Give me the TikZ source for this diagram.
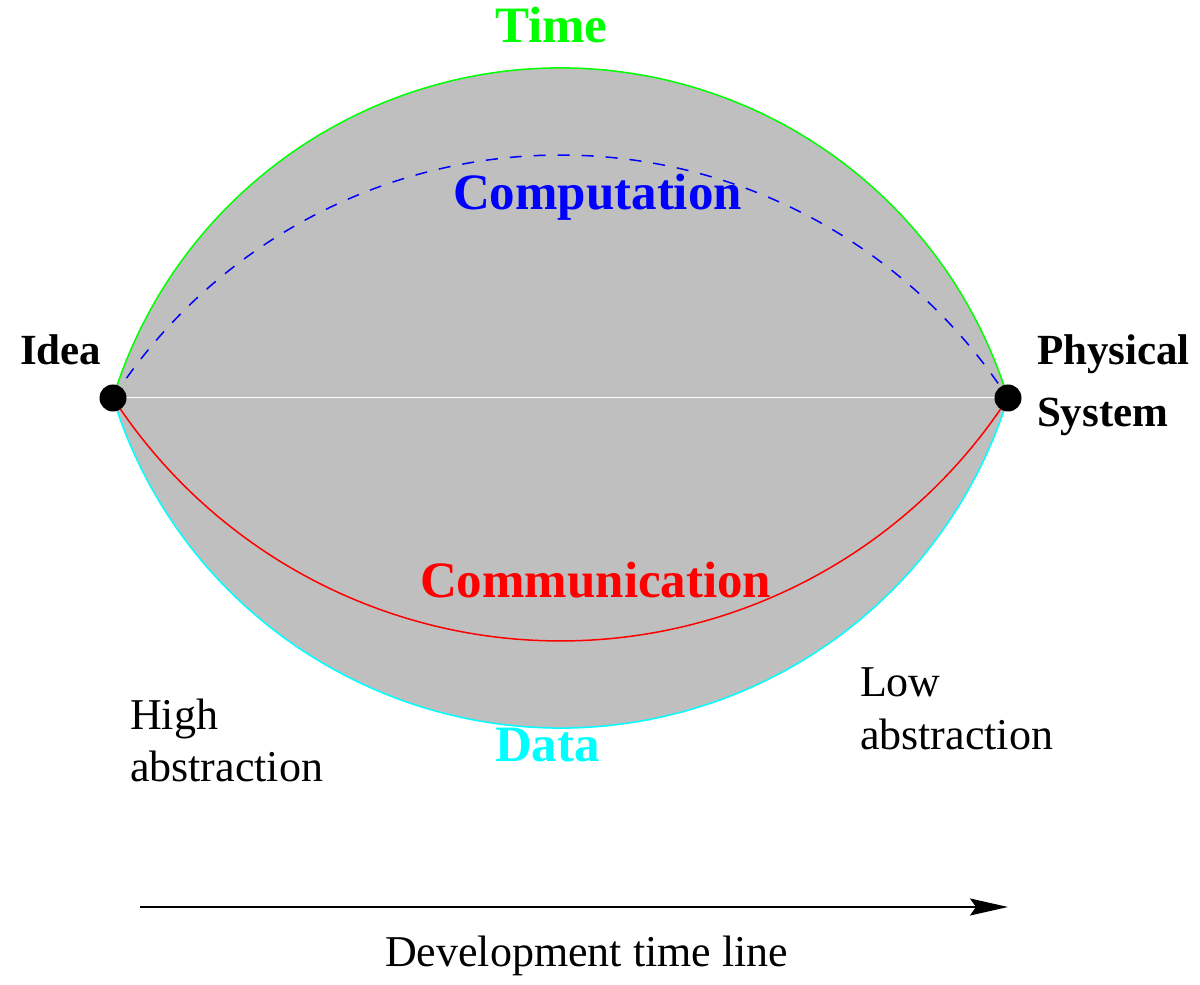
\documentclass[tikz,border=0pt]{standalone}
\usepackage{fontspec}
\setmainfont{Liberation Serif}
\newfontfamily\tms{Liberation Serif}
\usetikzlibrary{arrows.meta}
\definecolor{lensgray}{RGB}{191,191,191}
\definecolor{xgreen}{RGB}{0,255,0}
\definecolor{xcyan}{RGB}{0,255,255}
\definecolor{xblue}{RGB}{0,0,255}
\definecolor{xred}{RGB}{255,0,0}
\tikzset{
  lbl/.style={anchor=base west, inner sep=0pt, outer sep=0pt},
  biglbl/.style={lbl, font=\tms\fontsize{51}{60}\selectfont\bfseries},
  endlbl/.style={lbl, font=\tms\fontsize{43}{50}\selectfont\bfseries},
  plainlbl/.style={lbl, font=\tms\fontsize{44}{52}\selectfont},
  curve/.style={line width=1.5pt},
  dot/.style={circle, fill=black, inner sep=0pt, minimum size=27pt},
}
\begin{document}
\begin{tikzpicture}[x=1pt, y=1pt]
\useasboundingbox (0,0) rectangle (1200,985);

% end points of the lens
\coordinate (idea) at (113,587);
\coordinate (phys) at (1008,587);

% gray lens between the outer arcs
\fill[lensgray] (idea) arc[start angle=162.81, end angle=17.19, radius=468.42]
                arc[start angle=342.81, end angle=197.19, radius=468.42] -- cycle;
\draw[white, line width=1pt] (idea) -- (phys);

% outer arcs
\draw[curve, xgreen] (idea) arc[start angle=162.81, end angle=17.19, radius=468.42];
\draw[curve, xcyan] (idea) arc[start angle=197.19, end angle=342.81, radius=468.42];

% inner arcs
\draw[curve, xblue, dash pattern=on 12pt off 12pt] (idea) arc[start angle=147.0, end angle=33.0, radius=533.55];
\draw[curve, xred] (idea) arc[start angle=213.0, end angle=327.0, radius=533.55];

% end point dots
\node[dot] (ideadot) at (idea) {};
\node[dot] (physdot) at (phys) {};

% labels
\node[biglbl, text=xgreen] (time) at (495,942) {Time};
\node[biglbl, text=xblue] (comp) at (453,775) {Computation};
\node[biglbl, text=xred] (comm) at (420,387) {Communication};
\node[biglbl, text=xcyan] (data) at (495,223) {Data};
\node[endlbl] (idealbl) at (20,620) {Idea};
\node[endlbl] (phys1) at (1037,620) {Physical};
\node[endlbl] (phys2) at (1037,558) {System};
\node[plainlbl] (high1) at (130,255) {High};
\node[plainlbl] (high2) at (130,203) {abstraction};
\node[plainlbl] (low1) at (860,288) {Low};
\node[plainlbl] (low2) at (860,235) {abstraction};

% time line
\coordinate (tlstart) at (140,78);
\coordinate (tlend) at (1008,78);
\draw[line width=2pt, -{Stealth[length=38pt, width=17pt, inset=6pt]}] (tlstart) -- (tlend);
\node[plainlbl] (tl) at (385,18) {Development time line};
\end{tikzpicture}
\end{document}
